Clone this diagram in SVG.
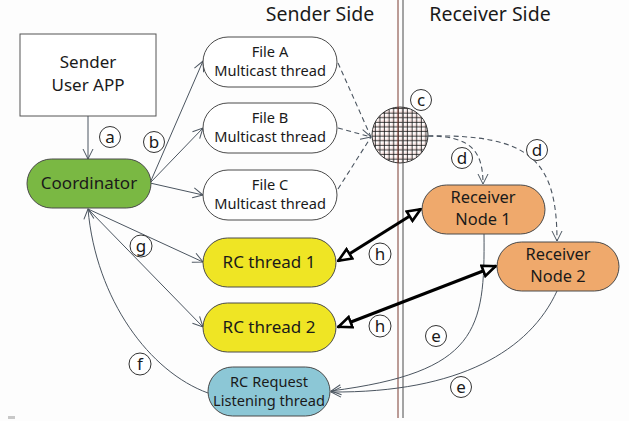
<svg xmlns="http://www.w3.org/2000/svg" width="629" height="421" viewBox="0 0 629 421">
  <style>
    .t { font-family: "Noto Sans", "Open Sans", sans-serif; fill: #1a1a1a; text-anchor: middle; }
    .hdr { font-size: 19.5px; }
    .big { font-size: 17px; }
    .rcv { font-size: 16.4px; }
    .sm { font-size: 14.6px; }
    .lbl { font-size: 17px; }
    .node { stroke: #4a4a4a; stroke-width: 1; }
    .conn { fill: none; stroke: #4b5560; stroke-width: 1; }
    .dash { fill: none; stroke: #4b5560; stroke-width: 1.1; stroke-dasharray: 5 3.5; }
    .thick { fill: none; stroke: #000; stroke-width: 3; }
    .tag { fill: #fff; stroke: #333; stroke-width: 1; }
  </style>
  <defs>
    <marker id="open" viewBox="0 0 12 12" refX="11" refY="6" markerWidth="12" markerHeight="12" markerUnits="userSpaceOnUse" orient="auto">
      <path d="M1,1 L11,6 L1,11" fill="none" stroke="#4b5560" stroke-width="1"/>
    </marker>
    <marker id="tri" viewBox="0 0 16 14" refX="15" refY="7" markerWidth="16" markerHeight="14" markerUnits="userSpaceOnUse" orient="auto-start-reverse">
      <path d="M1.5,1.5 L14.5,7 L1.5,12.5 Z" fill="#fff" stroke="#000" stroke-width="2.6" stroke-linejoin="miter"/>
    </marker>
    <pattern id="grid" x="0.5" y="0.5" width="4.6" height="4.6" patternUnits="userSpaceOnUse">
      <path d="M1,0 V4.6 M0,1 H4.6" stroke="#d05040" stroke-width="0.4" opacity="0.45"/>
      <path d="M2.2,0 V4.6 M0,2.2 H4.6" stroke="#111" stroke-width="0.8"/>
    </pattern>
  </defs>

  <rect width="629" height="421" fill="#fdfdfd"/>
  <rect x="8" y="416" width="7" height="3" fill="#c8c8c8"/>

  <!-- side headings and the sender/receiver boundary -->
  <text class="t hdr" x="320" y="21">Sender Side</text>
  <text class="t hdr" x="490" y="21">Receiver Side</text>

  <!-- multicast channel -->
  <g id="channel">
    <circle cx="400" cy="135" r="28" fill="#fff"/>
    <circle cx="400" cy="135" r="28" fill="url(#grid)" stroke="#333" stroke-width="1"/>
  </g>

  <line x1="398" y1="0" x2="398" y2="418" stroke="#7a3a30" stroke-width="1"/>
  <line x1="403" y1="0" x2="403" y2="418" stroke="#4a4a4a" stroke-width="1"/>

  <!-- connectors -->
  <g id="connectors">
    <line class="conn" x1="88" y1="116" x2="88" y2="159" marker-end="url(#open)"/>
    <line class="conn" x1="150" y1="183" x2="203" y2="61" marker-end="url(#open)"/>
    <line class="conn" x1="150" y1="183" x2="203" y2="128" marker-end="url(#open)"/>
    <line class="conn" x1="150" y1="183" x2="203" y2="195" marker-end="url(#open)"/>
    <line class="conn" x1="88" y1="209" x2="203" y2="262" marker-end="url(#open)"/>
    <line class="conn" x1="88" y1="209" x2="203" y2="327" marker-end="url(#open)"/>
    <path class="conn" d="M208,393 C150,372 96,300 88,209" marker-end="url(#open)"/>

    <line class="dash" x1="338" y1="63" x2="371" y2="137"/>
    <line class="dash" x1="338" y1="128" x2="371" y2="137" marker-end="url(#open)"/>
    <line class="dash" x1="338" y1="189" x2="371" y2="137"/>
    <path class="dash" d="M428,136 C470,136 483,150 483,184" marker-end="url(#open)"/>
    <path class="dash" d="M428,136 C530,134 557,160 557,241" marker-end="url(#open)"/>

    <path class="conn" d="M484,234 C485,330 478,372 331,391" marker-end="url(#open)"/>
    <path class="conn" d="M557,291 C530,350 460,393 331,392" marker-end="url(#open)"/>

    <line class="thick" x1="338" y1="261" x2="421" y2="209" marker-start="url(#tri)" marker-end="url(#tri)"/>
    <line class="thick" x1="338" y1="327" x2="496" y2="266" marker-start="url(#tri)" marker-end="url(#tri)"/>
  </g>

  <!-- nodes -->
  <g id="sender-app">
    <rect x="20" y="34" width="136" height="82" fill="#fff" stroke="#555" stroke-width="1"/>
    <text class="t big" x="88" y="68">Sender</text>
    <text class="t big" x="88" y="91">User APP</text>
  </g>
  <g id="coordinator">
    <rect class="node" x="27" y="159" width="124" height="49" rx="24.5" fill="#7ab843"/>
    <text class="t big" x="89" y="189">Coordinator</text>
  </g>
  <g id="file-a">
    <rect class="node" x="203" y="37" width="134" height="50" rx="25" fill="#fff"/>
    <text class="t sm" x="270" y="57">File A</text>
    <text class="t sm" x="270" y="76">Multicast thread</text>
  </g>
  <g id="file-b">
    <rect class="node" x="203" y="103" width="134" height="50" rx="25" fill="#fff"/>
    <text class="t sm" x="270" y="123">File B</text>
    <text class="t sm" x="270" y="142">Multicast thread</text>
  </g>
  <g id="file-c">
    <rect class="node" x="203" y="170" width="134" height="50" rx="25" fill="#fff"/>
    <text class="t sm" x="270" y="190">File C</text>
    <text class="t sm" x="270" y="209">Multicast thread</text>
  </g>
  <g id="rc-thread-1">
    <rect class="node" x="203" y="238" width="133" height="49" rx="24.5" fill="#efe524"/>
    <text class="t big" x="269" y="268">RC thread 1</text>
  </g>
  <g id="rc-thread-2">
    <rect class="node" x="203" y="303" width="133" height="49" rx="24.5" fill="#efe524"/>
    <text class="t big" x="269" y="333">RC thread 2</text>
  </g>
  <g id="rc-listener">
    <rect class="node" x="208" y="367" width="122" height="49" rx="24.5" fill="#8cc7d6"/>
    <text class="t sm" x="269" y="387">RC Request</text>
    <text class="t sm" x="269" y="406">Listening thread</text>
  </g>
  <g id="receiver-1">
    <rect class="node" x="422" y="185" width="123" height="49" rx="24.5" fill="#efa96c"/>
    <text class="t rcv" x="483" y="203">Receiver</text>
    <text class="t rcv" x="483" y="225">Node 1</text>
  </g>
  <g id="receiver-2">
    <rect class="node" x="497" y="242" width="122" height="49" rx="24.5" fill="#efa96c"/>
    <text class="t rcv" x="558" y="260">Receiver</text>
    <text class="t rcv" x="558" y="282">Node 2</text>
  </g>

  <!-- step tags -->
  <g id="tags">
    <circle class="tag" cx="110" cy="137" r="10.5"/><text class="t lbl" x="110" y="143">a</text>
    <circle class="tag" cx="154" cy="142" r="10.5"/><text class="t lbl" x="154" y="148">b</text>
    <circle class="tag" cx="421" cy="100" r="10.5"/><text class="t lbl" x="421" y="106">c</text>
    <circle class="tag" cx="462" cy="158" r="10.5"/><text class="t lbl" x="462" y="164">d</text>
    <circle class="tag" cx="537" cy="150" r="10.5"/><text class="t lbl" x="537" y="156">d</text>
    <circle class="tag" cx="436" cy="336" r="10.5"/><text class="t lbl" x="436" y="342">e</text>
    <circle class="tag" cx="461" cy="387" r="10.5"/><text class="t lbl" x="461" y="393">e</text>
    <circle class="tag" cx="140" cy="364" r="11"/><text class="t lbl" x="140" y="370">f</text>
    <circle class="tag" cx="141" cy="246" r="11"/><text class="t lbl" x="141" y="252">g</text>
    <circle class="tag" cx="380" cy="254" r="11"/><text class="t lbl" x="380" y="260">h</text>
    <circle class="tag" cx="380" cy="326" r="11"/><text class="t lbl" x="380" y="332">h</text>
  </g>
</svg>
